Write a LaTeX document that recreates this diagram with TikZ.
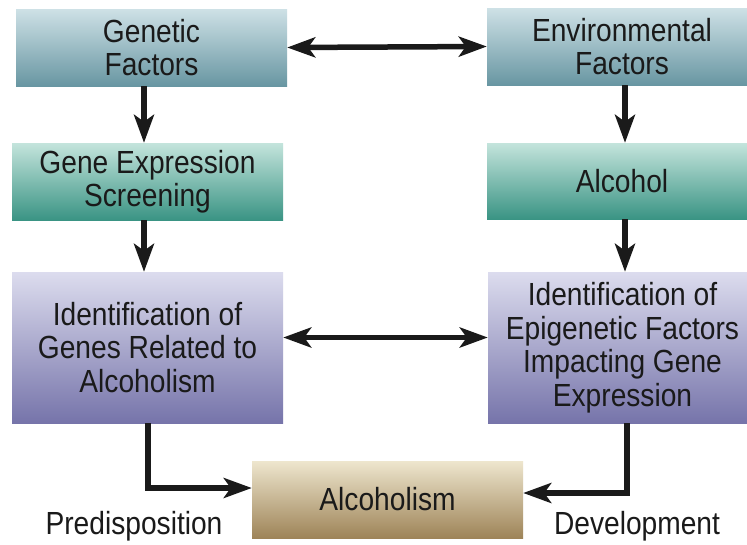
\documentclass[tikz,border=0pt]{standalone}
\usepackage{fontspec}
\setmainfont[FakeStretch=0.88]{Liberation Sans}
\usetikzlibrary{arrows.meta}
\definecolor{topA}{RGB}{206,225,230}
\definecolor{botA}{RGB}{104,150,162}
\definecolor{topB}{RGB}{196,228,220}
\definecolor{botB}{RGB}{58,148,132}
\definecolor{topC}{RGB}{220,220,238}
\definecolor{botC}{RGB}{118,116,170}
\definecolor{topD}{RGB}{238,230,206}
\definecolor{botD}{RGB}{158,132,88}
\definecolor{ink}{RGB}{26,26,26}
\begin{document}
\begin{tikzpicture}[x=1pt, y=-1pt,
    >={Stealth[length=28pt,width=20pt,inset=7pt]},
    box/.style={inner sep=0pt, align=center, text=ink,
        font=\fontsize{32}{33.5}\selectfont},
    factorbox/.style={box, top color=topA, bottom color=botA},
    stepbox/.style={box, top color=topB, bottom color=botB},
    idbox/.style={box, top color=topC, bottom color=botC, minimum height=151pt},
    endbox/.style={box, top color=topD, bottom color=botD},
    link/.style={line width=5.5pt, draw=ink}]
    \clip (0,0) rectangle (747,544);
    \fill[white] (0,0) rectangle (747,544);
    % first row
    \node[factorbox, minimum width=271pt, minimum height=77pt] (genetic) at (151.5,47.5) {Genetic\\Factors};
    \node[factorbox, minimum width=270pt, minimum height=77pt] (environ) at (622,46.5) {Environmental\\Factors};
    % second row
    \node[stepbox, minimum width=271pt, minimum height=77pt] (screening) at (147.5,181.5) {Gene Expression\\Screening};
    \node[stepbox, minimum width=270pt, minimum height=76pt] (alcohol) at (622,181) {Alcohol};
    % third row
    \node[idbox, minimum width=271pt] (genes) at (147.5,347.5) {Identification of\\Genes Related to\\Alcoholism};
    \node[idbox, minimum width=269pt] (epigen) at (622.5,347.5) {Identification of\\Epigenetic Factors\\Impacting Gene\\Expression};
    % result
    \node[endbox, minimum width=271pt, minimum height=77pt] (alcoholism) at (387.5,499.5) {Alcoholism};
    \node[box, anchor=base] (predisp) at (134,534) {Predisposition};
    \node[box, anchor=base] (develop) at (637,534) {Development};
    \coordinate (lcol) at (144,0);
    \coordinate (rcol) at (625,0);
    \coordinate (lbend) at (148,0);
    \coordinate (rbend) at (627,0);
    % arrows
    \draw[link, <->] (genetic.east) -- (environ.west);
    \draw[link, <->] ([yshift=10pt]genes.east) -- ([yshift=10pt]genes.east -| epigen.west);
    \draw[link, ->] (genetic.south -| lcol) -- (screening.north -| lcol);
    \draw[link, ->] (screening.south -| lcol) -- (genes.north -| lcol);
    \draw[link, ->] (environ.south -| rcol) -- (alcohol.north -| rcol);
    \draw[link, ->] (alcohol.south -| rcol) -- (epigen.north -| rcol);
    \draw[link, ->] (genes.south -| lbend) |- ([yshift=11.5pt]alcoholism.west);
    \draw[link, ->] (epigen.south -| rbend) |- ([yshift=6.5pt]alcoholism.east);
\end{tikzpicture}
\end{document}
